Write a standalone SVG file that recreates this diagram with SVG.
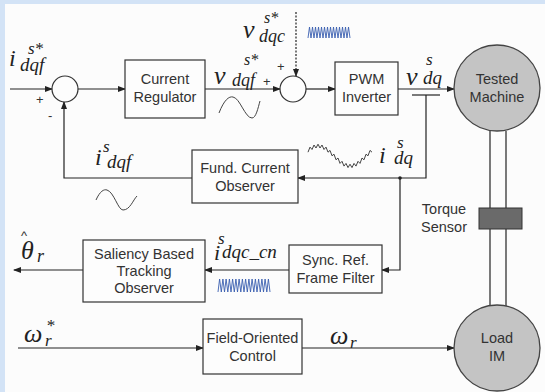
<svg xmlns="http://www.w3.org/2000/svg" width="545" height="392" viewBox="0 0 545 392">
<defs>
<marker id="ah" markerWidth="8" markerHeight="6" refX="7" refY="3" orient="auto" markerUnits="userSpaceOnUse">
<path d="M0,0 L8,3 L0,6 Z" fill="#222"/>
</marker>
<style>
.box{fill:#fdfdfd;stroke:#333;stroke-width:1.2}
.bt{font-family:"Liberation Sans",Arial,sans-serif;font-size:14.5px;fill:#333;text-anchor:middle}
.ln{fill:none;stroke:#222;stroke-width:1.2}
.arr{fill:none;stroke:#222;stroke-width:1.2;marker-end:url(#ah)}
.m{font-family:"Liberation Serif","Times New Roman",serif;font-style:italic;fill:#222}
.mc{fill:#c4c4c4;stroke:#444;stroke-width:1.3}
.sum{fill:#fdfdfd;stroke:#333;stroke-width:1.2}
.pm{font-family:"Liberation Sans",Arial,sans-serif;font-size:13px;fill:#333}
.wave{fill:none;stroke:#444;stroke-width:1}
.bw{fill:none;stroke:#3a5fb0;stroke-width:0.9}
</style>
</defs>
<rect x="0" y="0" width="545" height="392" fill="#d3e3f6"/>
<rect x="5" y="4" width="540" height="388" fill="#fcfcfc"/>

<g id="connectors">
<line class="arr" x1="10" y1="89" x2="52" y2="89"/>
<line class="arr" x1="78" y1="89" x2="125" y2="89"/>
<line class="arr" x1="205" y1="89" x2="280" y2="89"/>
<line class="arr" x1="296" y1="12" x2="296" y2="76" stroke-dasharray="2,1.5"/>
<line class="arr" x1="306" y1="89" x2="335" y2="89"/>
<line class="arr" x1="398" y1="89" x2="454" y2="89"/>
<line class="ln" x1="412" y1="95" x2="440" y2="95"/>
<polyline class="arr" points="426,95 426,178 298,178"/>
<circle cx="400" cy="178" r="1.8" fill="#222"/>
<polyline class="arr" points="400,178 400,270 382,270"/>
<polyline class="arr" points="192,178 64,178 64,102"/>
<line class="arr" x1="289" y1="270" x2="205" y2="270"/>
<line class="arr" x1="83" y1="270" x2="14" y2="270"/>
<line class="arr" x1="18" y1="348" x2="203" y2="348"/>
<line class="arr" x1="302" y1="348" x2="454" y2="348"/>
<line class="ln" x1="490" y1="131" x2="490" y2="306"/>
<line class="ln" x1="506" y1="131" x2="506" y2="306"/>
</g>

<g id="sum1"><circle class="sum" cx="65" cy="89" r="13"/>
<text class="pm" x="36" y="104">+</text><text class="pm" x="48" y="120">-</text></g>
<g id="current-regulator"><rect class="box" x="125" y="60" width="80" height="58"/>
<text class="bt" x="165" y="84">Current</text><text class="bt" x="165" y="102">Regulator</text></g>
<g id="sum2"><circle class="sum" cx="293" cy="89" r="13"/>
<text class="pm" x="263" y="86">+</text><text class="pm" x="277" y="71">+</text></g>
<g id="pwm-inverter"><rect class="box" x="335" y="62" width="63" height="53"/>
<text class="bt" x="366.5" y="84">PWM</text><text class="bt" x="366.5" y="102">Inverter</text></g>
<g id="tested-machine"><circle class="mc" cx="497" cy="88" r="43"/>
<text class="bt" x="497" y="84">Tested</text><text class="bt" x="497" y="102">Machine</text></g>
<g id="fund-observer"><rect class="box" x="192" y="150" width="106" height="53"/>
<text class="bt" x="245" y="173">Fund. Current</text><text class="bt" x="245" y="191">Observer</text></g>
<g id="torque-sensor"><rect x="479" y="208" width="43" height="21" fill="#6a6a6a" stroke="#333" stroke-width="1"/>
<text class="bt" x="444" y="214">Torque</text><text class="bt" x="444" y="232">Sensor</text></g>
<g id="saliency-observer"><rect class="box" x="83" y="240" width="122" height="62"/>
<text class="bt" x="144" y="259">Saliency Based</text><text class="bt" x="144" y="276">Tracking</text><text class="bt" x="144" y="293">Observer</text></g>
<g id="sync-filter"><rect class="box" x="289" y="245" width="93" height="48"/>
<text class="bt" x="335.5" y="265">Sync. Ref.</text><text class="bt" x="335.5" y="283">Frame Filter</text></g>
<g id="foc"><rect class="box" x="203" y="319" width="99" height="55"/>
<text class="bt" x="252.5" y="343">Field-Oriented</text><text class="bt" x="252.5" y="361">Control</text></g>
<g id="load-im"><circle class="mc" cx="497" cy="348" r="43"/>
<text class="bt" x="497" y="343">Load</text><text class="bt" x="497" y="361">IM</text></g>

<g id="labels">
<text class="m" x="9" y="66" font-size="24">i</text><text class="m" x="28" y="54" font-size="17">s*</text><text class="m" x="20" y="71" font-size="19">dqf</text>
<text class="m" x="214" y="84" font-size="26">v</text><text class="m" x="244" y="65" font-size="16">s*</text><text class="m" x="232" y="86" font-size="18">dqf</text>
<text class="m" x="243" y="38" font-size="26">v</text><text class="m" x="264" y="23" font-size="16">s*</text><text class="m" x="259" y="42" font-size="18">dqc</text>
<text class="m" x="406" y="85" font-size="26">v</text><text class="m" x="426" y="65" font-size="17">s</text><text class="m" x="423" y="84" font-size="19">dq</text>
<text class="m" x="379" y="163" font-size="24">i</text><text class="m" x="397" y="148" font-size="17">s</text><text class="m" x="394" y="164" font-size="19">dq</text>
<text class="m" x="95" y="165" font-size="24">i</text><text class="m" x="103" y="152" font-size="17">s</text><text class="m" x="107" y="168" font-size="19">dqf</text>
<text class="m" x="214" y="260" font-size="22">i</text><text class="m" x="218" y="244" font-size="17">s</text><text class="m" x="222" y="258" font-size="19">dqc_cn</text>
<text x="21" y="240" font-family="Liberation Sans,sans-serif" font-size="13" fill="#333">^</text>
<text class="m" x="21" y="259" font-size="26">θ</text><text class="m" x="37" y="262" font-size="18">r</text>
<text class="m" x="24" y="342" font-size="26">ω</text><text class="m" x="46" y="331" font-size="17">*</text><text class="m" x="45" y="346" font-size="17">r</text>
<text class="m" x="330" y="344" font-size="26">ω</text><text class="m" x="350" y="348" font-size="17">r</text>
</g>

<g id="waveforms">
<path class="wave" d="M219,113 C224,100 229,96 233,97 C240,98 245,118 252,118 C256,118 258,108 260,101"/>
<path class="wave" d="M96,200 C100,191 104,189 107,190 C114,192 118,210 123,210 C130,210 133,200 137,196"/>
<polyline class="wave" points="308,152.2 310,147.1 312,149.5 314,145.0 316,148.0 318,144.2 320,148.0 322,145.0 324,149.5 326,147.1 328,152.2 330,150.4 332,155.8 334,154.2 336,159.8 338,158.0 340,163.4 342,161.3 344,166.1 346,163.4 348,167.6 350,164.2 352,167.6 354,163.4 356,166.1 358,161.3 360,163.4 362,158.0 364,159.8 366,154.2 368,155.8 370,150.4 372,152.2"/>
<polyline class="bw" points="308,38 309.5,27 311,38 312.5,27 314,38 315.5,27 317,38 318.5,27 320,38 321.5,27 323,38 324.5,27 326,38 327.5,27 329,38 330.5,27 332,38 333.5,27 335,38 336.5,27 338,38 339.5,27 341,38 342.5,27 344,38 345.5,27 347,38 348.5,27 350,38"/>
<polyline class="bw" points="218,292 219.6,279 221.3,292 222.9,279 224.5,292 226.1,279 227.8,292 229.4,279 231,292 232.6,279 234.3,292 235.9,279 237.5,292 239.1,279 240.8,292 242.4,279 244,292 245.6,279 247.3,292 248.9,279 250.5,292 252.1,279 253.8,292 255.4,279 257,292 258.6,279 260.3,292 261.9,279 263.5,292 265.1,279 266.8,292 268.4,279 270,292"/>
</g>
</svg>
